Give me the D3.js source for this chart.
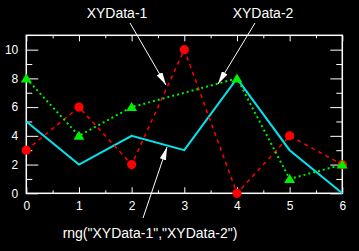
<!DOCTYPE html>
<html>
<head>
<meta charset="utf-8">
<script src="https://cdn.jsdelivr.net/npm/d3@7"></script>
<style>
  html, body { margin: 0; padding: 0; background: #000; }
  svg { display: block; }
  text { font-family: "Liberation Sans", Arial, sans-serif; fill: #fff; }
</style>
</head>
<body>
<div id="chart"></div>
<script>
// chart data
const xs1 = [0, 1, 2, 3, 4, 5, 6];
const data1 = [3, 6, 2, 10, 0, 4, 2];          // XYData-1
const xs2 = [0, 1, 2, 4, 5, 6];
const data2 = [8, 4, 6, 8, 1, 2];               // XYData-2
const xsRng = [0, 1, 2, 3, 4, 5, 6];
const dataRng = [5, 2, 4, 3, 8, 3, 0];          // rng("XYData-1","XYData-2")
const xMajor = [0, 1, 2, 3, 4, 5, 6];
const xMinor = [0.5, 1.5, 2.5, 3.5, 4.5, 5.5];
const yMajor = [0, 2, 4, 6, 8, 10];
const yMinor = [1, 3, 5, 7, 9];

const W = 359, H = 251;
const svg = d3.select("#chart").append("svg")
    .attr("width", W).attr("height", H);

svg.append("rect").attr("width", W).attr("height", H).attr("fill", "#000");

// arrowhead
svg.append("defs").append("marker")
    .attr("id", "head")
    .attr("viewBox", "0 -3 12 6")
    .attr("refX", 12).attr("refY", 0)
    .attr("markerUnits", "userSpaceOnUse")
    .attr("markerWidth", 13).attr("markerHeight", 6.5)
    .attr("orient", "auto")
    .append("path")
      .attr("d", "M0,-3L12,0L0,3Z")
      .attr("fill", "#fff");

const x = d3.scaleLinear().domain([0, 6]).range([26.3, 342.3]);
const y = d3.scaleLinear().domain([0, 11]).range([193.3, 35.3]);

const g = svg.append("g");

// inward ticks on all four sides
function ticks(axis, vals, size, tx, ty, fmt) {
  const a = axis.tickValues(vals).tickSize(size).tickSizeOuter(0).tickPadding(8)
      .tickFormat(fmt ? d3.format("d") : "");
  const sel = g.append("g").attr("transform", `translate(${tx},${ty})`).call(a);
  sel.select(".domain").remove();
  sel.selectAll("line").attr("stroke", "#fff").attr("stroke-width", 1);
  sel.selectAll("text").attr("fill", "#fff").style("font-size", "12px")
     .style("font-family", "'Liberation Sans', Arial, sans-serif");
  return sel;
}
ticks(d3.axisBottom(x), xMajor, -6, 0, y(0), true);
ticks(d3.axisBottom(x), xMinor, -3, 0, y(0), false);
ticks(d3.axisTop(x), xMajor, -6, 0, y(11), false);
ticks(d3.axisTop(x), xMinor, -3, 0, y(11), false);
ticks(d3.axisLeft(y), yMajor, -12, x(0), 0, true);
ticks(d3.axisLeft(y), yMinor, -6, x(0), 0, false);
ticks(d3.axisRight(y), yMajor, -12, x(6), 0, false);
ticks(d3.axisRight(y), yMinor, -6, x(6), 0, false);

g.append("rect")
    .attr("x", x(0)).attr("y", y(11))
    .attr("width", x(6) - x(0)).attr("height", y(0) - y(11))
    .attr("fill", "none").attr("stroke", "#fff").attr("stroke-width", 1.5);

const line = d3.line().x(d => x(d[0])).y(d => y(d[1]));

// rng series (cyan)
g.append("path")
    .datum(d3.zip(xsRng, dataRng))
    .attr("d", line)
    .attr("fill", "none").attr("stroke", "#00e5ee").attr("stroke-width", 2);

// XYData-1 (red dashed, circles)
g.append("path")
    .datum(d3.zip(xs1, data1))
    .attr("d", line)
    .attr("fill", "none").attr("stroke", "#ff0000")
    .attr("stroke-width", 1.5).attr("stroke-dasharray", "4,4");
g.selectAll(".c1").data(d3.zip(xs1, data1)).enter().append("circle")
    .attr("cx", d => x(d[0])).attr("cy", d => y(d[1]))
    .attr("r", 4.6).attr("fill", "#ff0000");

// XYData-2 (green dotted, triangles)
g.append("path")
    .datum(d3.zip(xs2, data2))
    .attr("d", line)
    .attr("fill", "none").attr("stroke", "#00ee00")
    .attr("stroke-width", 2).attr("stroke-dasharray", "2,3");
g.selectAll(".t2").data(d3.zip(xs2, data2)).enter().append("path")
    .attr("transform", d => `translate(${x(d[0])},${y(d[1])})`)
    .attr("d", "M0,-5L5.5,4L-5.5,4Z")
    .attr("fill", "#00ee00");

// annotations
const notes = [
  {text: "XYData-1", tx: 117, ty: 18, x1: 130, y1: 23, x2: 166, y2: 85},
  {text: "XYData-2", tx: 263, ty: 18, x1: 255, y1: 23, x2: 218, y2: 84},
  {text: "rng(\"XYData-1\",\"XYData-2\")", tx: 150, ty: 238, x1: 143, y1: 218, x2: 167, y2: 147}
];
notes.forEach(n => {
  svg.append("line")
      .attr("x1", n.x1).attr("y1", n.y1).attr("x2", n.x2).attr("y2", n.y2)
      .attr("stroke", "#fff").attr("stroke-width", 1)
      .attr("marker-end", "url(#head)");
  svg.append("text")
      .attr("x", n.tx).attr("y", n.ty)
      .attr("text-anchor", "middle")
      .style("font-size", "14px")
      .text(n.text);
});
</script>
</body>
</html>
